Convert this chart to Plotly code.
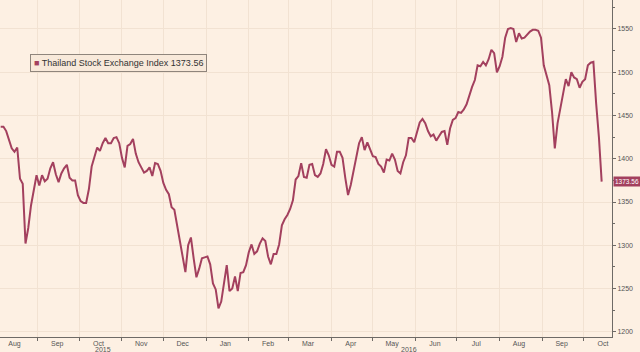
import pandas as pd
import plotly.graph_objects as go

# Thailand SET index, sampled every 2 calendar days from 2015-08-05
start_date = "2015-08-05"
values = [
    1437, 1437, 1432, 1422, 1412, 1408, 1413, 1377, 1371, 1302,
    1320, 1346, 1366, 1381, 1369, 1381, 1374, 1377, 1389, 1396,
    1382, 1373, 1383, 1389, 1393, 1378, 1375, 1375, 1358, 1351,
    1349, 1349, 1365, 1391, 1402, 1413, 1409, 1418, 1424, 1418,
    1418, 1424, 1425, 1418, 1401, 1390, 1415, 1417, 1423, 1406,
    1396, 1389, 1384, 1386, 1390, 1380, 1395, 1394, 1386, 1372,
    1364, 1359, 1344, 1341, 1323, 1302, 1283, 1269, 1300, 1309,
    1285, 1263, 1273, 1285, 1286, 1287, 1278, 1256, 1249, 1227,
    1235, 1259, 1277, 1247, 1250, 1264, 1247, 1268, 1269, 1277,
    1292, 1301, 1290, 1293, 1302, 1308, 1305, 1287, 1278, 1290,
    1290, 1301, 1323, 1330, 1335, 1342, 1352, 1376, 1380, 1395,
    1379, 1378, 1393, 1394, 1381, 1379, 1383, 1394, 1411, 1404,
    1393, 1391, 1408, 1408, 1401, 1378, 1358, 1370, 1387, 1405,
    1418, 1425, 1410, 1419, 1411, 1403, 1402, 1394, 1391, 1384,
    1399, 1398, 1406, 1399, 1386, 1383, 1396, 1404, 1424, 1424,
    1419, 1432, 1442, 1446, 1441, 1432, 1426, 1428, 1421, 1426,
    1431, 1432, 1416, 1435, 1445, 1447, 1454, 1453, 1457, 1463,
    1474, 1483, 1491, 1508, 1507, 1512, 1508, 1515, 1526, 1522,
    1500, 1507, 1518, 1540, 1550, 1551, 1550, 1535, 1545, 1539,
    1540, 1544, 1547, 1549, 1549, 1548, 1540, 1508, 1497, 1485,
    1454, 1412, 1441, 1457, 1474, 1492, 1484, 1500, 1494, 1492,
    1482, 1489, 1492, 1508, 1511, 1512, 1464, 1425, 1373.56,
]
series_name = "Thailand Stock Exchange Index"
last_label = "1373.56"

month_labels = ["Aug", "Sep", "Oct", "Nov", "Dec", "Jan", "Feb", "Mar",
                "Apr", "May", "Jun", "Jul", "Aug", "Sep", "Oct"]
month_ticks = [pd.Timestamp(y, m, 15) for y, m in
               [(2015, 8), (2015, 9), (2015, 10), (2015, 11), (2015, 12), (2016, 1), (2016, 2),
                (2016, 3), (2016, 4), (2016, 5), (2016, 6), (2016, 7), (2016, 8), (2016, 9), (2016, 10)]]
year_labels = ["2015", "2016"]
y_ticks = [1200, 1250, 1300, 1350, 1400, 1450, 1500, 1550]

x_range = [pd.Timestamp("2015-08-04 12:00"), pd.Timestamp("2016-10-21 12:00")]
y_range = [1194, 1583.5]

dates = pd.date_range(start_date, periods=len(values), freq="2D")

LINE = "#A3405E"
BG = "#FDF0E3"
GRID = "#F2E2D2"
AXIS = "#6E6A66"
TXT = "#555555"
FONT = "Liberation Sans"

fig = go.Figure()
fig.add_trace(go.Scatter(x=dates, y=values, mode="lines", name=series_name,
                         line=dict(color=LINE, width=2), showlegend=False))

year_start = pd.Timestamp("2016-01-01")
year_pos = [x_range[0] + (year_start - x_range[0]) / 2, year_start + (x_range[1] - year_start) / 2]
annotations = []
for pos, lab in zip(year_pos, year_labels):
    annotations.append(dict(x=pos, xref="x", y=0, yref="paper", yanchor="top", yshift=-7,
                            text=lab, showarrow=False, font=dict(family=FONT, size=7, color=TXT)))

annotations.append(dict(
    x=30 / 612, xref="paper", y=1 - 63 / 337, yref="paper", xanchor="left", yanchor="middle",
    text=f"<span style='color:{LINE}'>■</span> {series_name} {last_label}", showarrow=False,
    font=dict(family=FONT, size=9, color="#333333"),
    bgcolor="#F8E9DA", bordercolor="#8F857C", borderwidth=1, borderpad=3,
))
annotations.append(dict(
    x=1, xref="paper", y=values[-1], yref="y", xanchor="left", yanchor="middle", xshift=1,
    text=last_label, showarrow=False, font=dict(family=FONT, size=6.5, color="white"),
    bgcolor=LINE, borderpad=1,
))

fig.update_layout(
    width=640, height=352,
    margin=dict(l=0, r=28, t=0, b=15),
    paper_bgcolor=BG, plot_bgcolor=BG,
    font=dict(family=FONT, color=TXT),
    annotations=annotations,
    xaxis=dict(
        type="date", range=x_range,
        tickvals=month_ticks, ticktext=month_labels,
        ticks="", tickfont=dict(size=7, color=TXT),
        showgrid=False, showline=True, linecolor=AXIS, linewidth=1,
        minor=dict(dtick="M1", tick0="2015-08-01", ticks="outside", ticklen=3,
                   tickcolor=AXIS, showgrid=True, gridcolor=GRID, gridwidth=1),
        zeroline=False,
    ),
    yaxis=dict(
        range=y_range, side="right", tickvals=y_ticks,
        ticks="outside", ticklen=3, tickcolor=AXIS,
        tickfont=dict(size=7, color=TXT),
        showgrid=True, gridcolor=GRID, gridwidth=1,
        showline=True, linecolor=AXIS, linewidth=1,
        minor=dict(dtick=25, tick0=1200, ticks="outside", ticklen=2, tickcolor=AXIS, showgrid=False),
        zeroline=False,
    ),
)

fig.write_html("out.html")
